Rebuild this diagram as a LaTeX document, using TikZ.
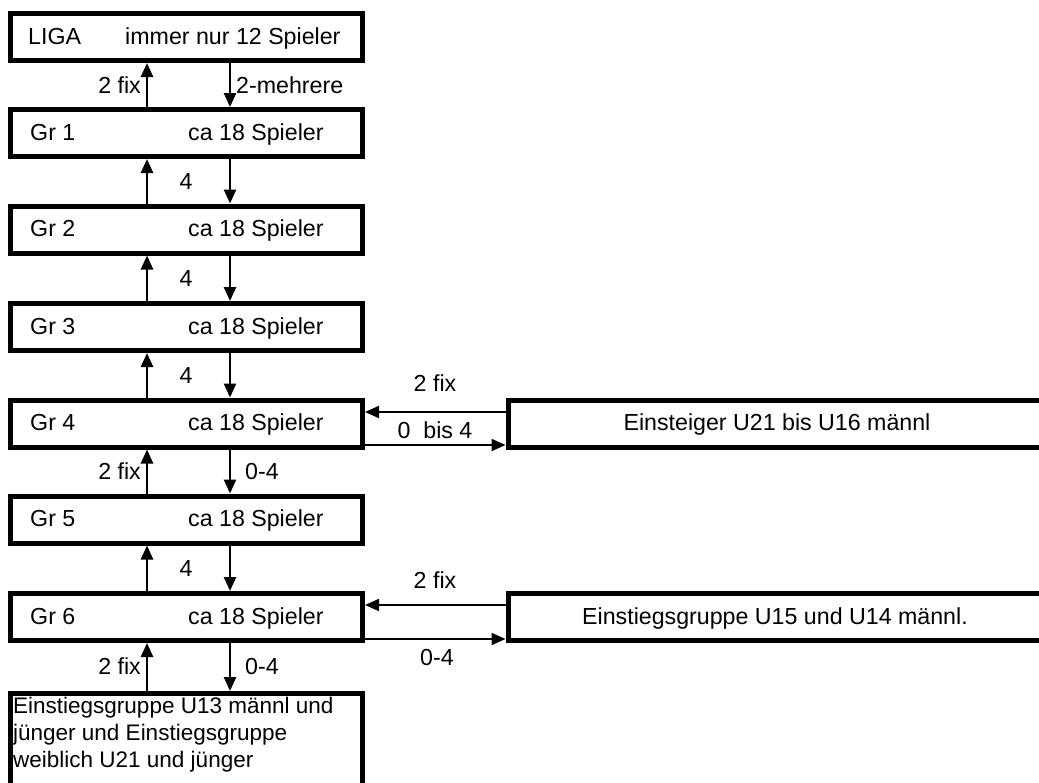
\documentclass[tikz,border=0pt]{standalone}
\usepackage{fontspec}
\setmainfont{Liberation Sans}
\usetikzlibrary{arrows.meta}
\begin{document}
\begin{tikzpicture}[x=1pt,y=-1pt,
  box/.style={draw,line width=5pt,rectangle,inner sep=0pt,outer sep=2.5pt,minimum width=352pt,minimum height=47pt},
  rbox/.style={box,minimum width=540pt},
  txt/.style={font=\fontsize{23.2}{27}\selectfont,inner sep=0pt},
  btxt/.style={font=\fontsize{22.5}{27}\selectfont,inner sep=0pt},
  arr/.style={line width=2.5pt,-{Triangle[length=14pt,width=12pt]}},
  harr/.style={line width=2pt,-{Triangle[length=14pt,width=12pt]}},
]
\useasboundingbox (0,0) rectangle (1039,782);
\clip (0,0) rectangle (1039,782);

% boxes
\node[box] (liga) at (186.5,37) {};
\node[box] (g1) at (186.5,133) {};
\node[box] (g2) at (186.5,229.5) {};
\node[box] (g3) at (186.5,327) {};
\node[box] (g4) at (186.5,423.5) {};
\node[box] (g5) at (186.5,519.5) {};
\node[box] (g6) at (186.5,617) {};
\node[box,minimum height=130pt,anchor=north] (bot) at (186.5,691) {};
\node[rbox] (ein) at (778,423.5) {};
\node[rbox] (eg) at (778,617) {};

% box texts
\node[txt,anchor=base west] (tliga) at (28,44) {LIGA};
\node[txt,anchor=base west] (tliga2) at (125,44) {immer nur 12 Spieler};
\node[txt,anchor=base west] (tg1) at (30,140) {Gr 1};
\node[txt,anchor=base west] (tg1b) at (188,140) {ca 18 Spieler};
\node[txt,anchor=base west] (tg2) at (30,236.5) {Gr 2};
\node[txt,anchor=base west] (tg2b) at (188,236.5) {ca 18 Spieler};
\node[txt,anchor=base west] (tg3) at (30,334) {Gr 3};
\node[txt,anchor=base west] (tg3b) at (188,334) {ca 18 Spieler};
\node[txt,anchor=base west] (tg4) at (30,430.5) {Gr 4};
\node[txt,anchor=base west] (tg4b) at (188,430.5) {ca 18 Spieler};
\node[txt,anchor=base west] (tg5) at (30,526.5) {Gr 5};
\node[txt,anchor=base west] (tg5b) at (188,526.5) {ca 18 Spieler};
\node[txt,anchor=base west] (tg6) at (30,624) {Gr 6};
\node[txt,anchor=base west] (tg6b) at (188,624) {ca 18 Spieler};
\node[txt,anchor=base] (tein) at (777,430.5) {Einsteiger U21 bis U16 männl};
\node[txt,anchor=base] (teg) at (775,624) {Einstiegsgruppe U15 und U14 männl.};
\node[btxt,anchor=base west] (tb1) at (13,713) {Einstiegsgruppe U13 männl und};
\node[btxt,anchor=base west] (tb2) at (13,740) {jünger und Einstiegsgruppe};
\node[btxt,anchor=base west] (tb3) at (13,767) {weiblich U21 und jünger};

% vertical arrows
\coordinate (ux) at (147,0);
\coordinate (dx) at (230,0);
\foreach \lo/\hi in {g1/liga,g2/g1,g3/g2,g4/g3,g5/g4,g6/g5,bot/g6}{
  \draw[arr] (\lo.north -| ux) -- (\hi.south -| ux);
  \draw[arr] (\hi.south -| dx) -- (\lo.north -| dx);
}

% horizontal arrows
\coordinate (h1) at (0,412);
\coordinate (h2) at (0,445);
\coordinate (h3) at (0,605);
\coordinate (h4) at (0,639);
\draw[harr] (ein.west |- h1) -- (g4.east |- h1);
\draw[harr] (g4.east |- h2) -- (ein.west |- h2);
\draw[harr] (eg.west |- h3) -- (g6.east |- h3);
\draw[harr] (g6.east |- h4) -- (eg.west |- h4);

% arrow labels
\node[txt,anchor=base east] (l1a) at (141,93) {2 fix};
\node[txt,anchor=base west] (l1b) at (236,93) {2-mehrere};
\node[txt,anchor=base] (l2) at (186,189) {4};
\node[txt,anchor=base] (l3) at (186,286) {4};
\node[txt,anchor=base] (l4) at (186,383) {4};
\node[txt,anchor=base east] (l5a) at (141,479.5) {2 fix};
\node[txt,anchor=base west] (l5b) at (245,479.5) {0-4};
\node[txt,anchor=base] (l6) at (186,576.5) {4};
\node[txt,anchor=base east] (l7a) at (141,674.5) {2 fix};
\node[txt,anchor=base west] (l7b) at (245,674.5) {0-4};
\node[txt,anchor=base] (h1l) at (435,391) {2 fix};
\node[txt,anchor=base] (h2l) at (435,438) {0\ \ bis 4};
\node[txt,anchor=base] (h3l) at (435,588) {2 fix};
\node[txt,anchor=base] (h4l) at (437,665) {0-4};
\end{tikzpicture}
\end{document}
